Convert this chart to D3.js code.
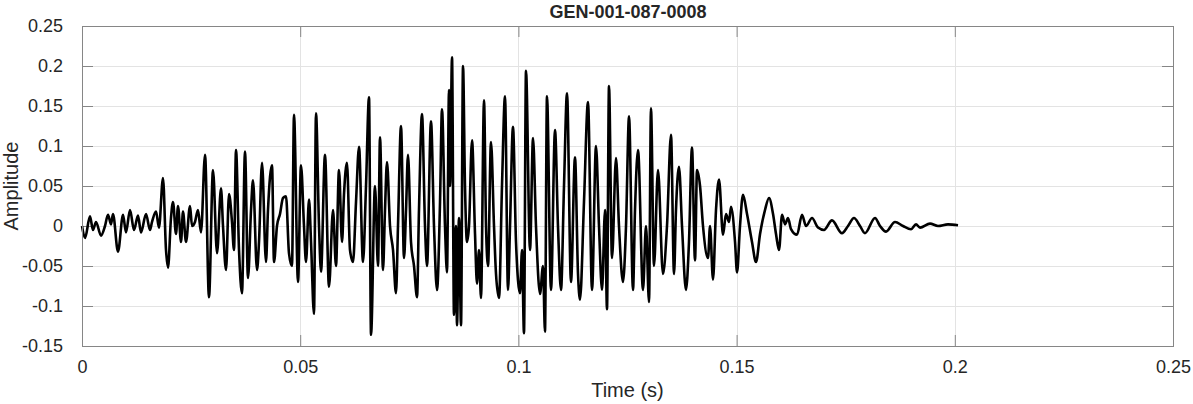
<!DOCTYPE html>
<html>
<head>
<meta charset="utf-8">
<script src="https://cdn.jsdelivr.net/npm/d3@7"></script>
<style>
  html, body { margin: 0; padding: 0; background: #ffffff; }
  svg { display: block; }
  text { font-family: "Liberation Sans", Arial, Helvetica, sans-serif; fill: #262626; }
</style>
</head>
<body>
<svg id="chart" width="1193" height="404"></svg>
<script>
// ---- data ----
const chartTitle = "GEN-001-087-0008";
const xLabel = "Time (s)";
const yLabel = "Amplitude";
const xTicks = [0, 0.05, 0.1, 0.15, 0.2, 0.25];
const xTickLabels = ["0", "0.05", "0.1", "0.15", "0.2", "0.25"];
const yTicks = [-0.15, -0.1, -0.05, 0, 0.05, 0.1, 0.15, 0.2, 0.25];
const yTickLabels = ["-0.15", "-0.1", "-0.05", "0", "0.05", "0.1", "0.15", "0.2", "0.25"];

// time in milliseconds
const timeMs = [
  0.00, 0.69, 1.83, 2.52, 3.21, 4.35, 5.27, 5.96, 6.65, 7.10,
  8.25, 9.40, 10.08, 11.00, 11.92, 12.83, 13.52, 14.67, 15.58, 16.04,
  16.96, 17.64, 18.56, 19.25, 19.71, 20.39, 20.85, 21.54, 22.00, 22.69,
  23.14, 23.83, 24.75, 25.21, 25.89, 26.58, 27.27, 28.19, 29.10, 30.02,
  30.94, 31.85, 32.31, 33.00, 33.69, 34.37, 34.83, 35.29, 35.98, 36.66,
  37.35, 38.04, 38.73, 39.18, 40.10, 40.56, 41.25, 42.16, 42.62, 43.54,
  44.00, 44.68, 45.37, 46.06, 46.75, 47.43, 48.12, 48.58, 49.50, 50.18,
  50.87, 51.33, 52.02, 52.48, 53.16, 53.62, 54.31, 54.77, 55.68, 56.60,
  57.52, 58.20, 58.89, 59.58, 60.04, 60.72, 61.41, 62.10, 62.79, 63.48,
  64.39, 65.08, 65.77, 66.23, 67.14, 67.83, 68.29, 68.97, 69.43, 69.89,
  70.58, 71.27, 71.95, 72.41, 73.10, 73.79, 74.25, 74.70, 75.39, 76.08,
  76.77, 77.22, 77.91, 78.60, 79.06, 79.97, 80.66, 81.35, 82.04, 82.49,
  83.18, 83.64, 84.10, 84.33, 84.79, 85.24, 85.70, 85.93, 86.39, 86.85,
  87.31, 87.76, 88.22, 88.68, 89.37, 90.06, 90.51, 90.97, 91.43, 92.12,
  92.58, 93.04, 93.72, 94.41, 94.87, 95.56, 96.24, 96.93, 97.62, 98.08,
  98.76, 99.45, 100.37, 100.83, 101.28, 101.74, 102.66, 103.35, 104.03, 104.95,
  105.64, 106.09, 106.55, 107.47, 108.39, 109.07, 109.76, 110.45, 111.14, 112.05,
  112.97, 113.66, 114.12, 115.03, 115.95, 116.87, 117.78, 118.47, 119.16, 119.85,
  120.30, 120.76, 121.45, 122.37, 123.05, 123.97, 124.66, 125.35, 126.26, 126.72,
  127.41, 128.55, 129.24, 129.93, 130.38, 131.07, 131.99, 133.13, 134.05, 134.97,
  135.66, 136.11, 136.80, 137.49, 138.40, 139.09, 139.78, 140.47, 140.93, 141.62,
  142.30, 143.45, 143.91, 144.59, 145.28, 145.97, 146.89, 147.57, 148.26, 148.72,
  149.64, 150.10, 150.78, 151.47, 152.39, 153.53, 154.45, 155.37, 156.51, 157.43,
  158.35, 159.03, 159.72, 160.41, 161.10, 161.78, 162.47, 163.84, 164.99, 165.91,
  167.28, 168.65, 170.03, 171.86, 174.15, 175.53, 176.90, 178.28, 179.42, 181.72,
  182.86, 184.24, 186.30, 188.13, 189.97, 191.11, 192.03, 194.32, 196.15, 198.44,
  200.74
];

const amplitude = [
  0.000, -0.015, 0.012, -0.005, 0.005, -0.012, 0.000, 0.014, 0.002, 0.015,
  -0.032, 0.014, -0.008, 0.020, -0.005, 0.013, -0.008, 0.015, -0.005, 0.005,
  0.018, -0.002, 0.060, -0.030, -0.052, 0.010, 0.030, -0.010, 0.025, -0.020,
  0.018, -0.020, 0.025, 0.000, 0.005, 0.020, -0.008, 0.089, -0.089, 0.070,
  -0.034, 0.047, 0.000, -0.055, 0.040, 0.005, -0.030, 0.095, -0.030, -0.084,
  0.093, -0.065, 0.020, 0.057, -0.055, -0.020, 0.079, -0.045, 0.020, 0.076,
  -0.045, 0.000, 0.015, 0.035, 0.037, -0.034, -0.050, 0.139, -0.070, 0.076,
  0.000, -0.045, 0.033, -0.020, -0.110, 0.141, 0.000, -0.057, 0.089, -0.076,
  0.020, -0.050, 0.070, -0.020, 0.040, 0.079, -0.030, -0.045, 0.030, 0.099,
  -0.045, 0.050, 0.161, -0.136, 0.050, -0.050, 0.111, -0.055, 0.020, 0.080,
  0.000, -0.030, -0.084, 0.000, 0.125, -0.040, 0.020, 0.089, -0.020, -0.050,
  -0.089, 0.020, 0.140, 0.000, -0.050, 0.131, 0.000, -0.080, 0.030, 0.146,
  0.000, -0.058, 0.170, 0.050, 0.211, -0.111, 0.000, -0.124, 0.010, -0.124,
  0.200, 0.050, -0.020, 0.000, 0.107, -0.010, -0.072, -0.030, -0.090, 0.157,
  0.000, -0.050, 0.105, 0.000, -0.060, -0.090, 0.050, 0.162, -0.080, 0.000,
  0.124, -0.020, -0.084, -0.030, -0.134, 0.194, -0.030, 0.110, 0.000, -0.085,
  -0.050, -0.132, 0.162, -0.080, 0.120, 0.000, -0.080, 0.050, 0.166, -0.070,
  0.086, -0.060, -0.092, 0.030, 0.155, -0.080, 0.100, 0.000, -0.080, 0.020,
  -0.104, 0.175, -0.040, 0.085, 0.000, -0.070, 0.000, 0.137, -0.080, 0.020,
  0.095, -0.080, 0.000, -0.095, 0.147, -0.050, 0.070, -0.060, 0.000, 0.114,
  -0.060, 0.020, 0.074, 0.000, -0.080, -0.020, 0.098, -0.043, 0.070, 0.050,
  0.000, -0.040, 0.000, -0.067, 0.020, 0.058, -0.011, 0.015, 0.005, 0.024,
  -0.020, -0.058, 0.000, 0.039, 0.015, -0.020, -0.045, -0.010, 0.020, 0.035,
  0.015, -0.010, -0.030, 0.014, 0.002, 0.010, -0.004, -0.011, 0.014, 0.000,
  0.010, -0.002, -0.005, 0.007, -0.009, 0.000, 0.010, 0.000, -0.009, 0.010,
  0.000, -0.007, 0.005, 0.000, -0.004, 0.002, -0.002, 0.003, 0.000, 0.002,
  0.001
];

// ---- layout ----
const svg = d3.select("#chart");
const mLeft = 82, mRight = 1173, mTop = 26, mBottom = 346;

const x = d3.scaleLinear().domain([0, 0.25]).range([mLeft, mRight]);
const y = d3.scaleLinear().domain([-0.15, 0.25]).range([mBottom, mTop]);

const points = timeMs.map((t, i) => ({ t: t / 1000, a: amplitude[i] }));

// grid
const grid = svg.append("g");
grid.selectAll("line.vx").data(xTicks).enter().append("line")
  .attr("x1", d => Math.round(x(d)) + 0.5).attr("x2", d => Math.round(x(d)) + 0.5)
  .attr("y1", mTop).attr("y2", mBottom)
  .attr("stroke", "#e3e3e3").attr("stroke-width", 1);
grid.selectAll("line.hy").data(yTicks).enter().append("line")
  .attr("y1", d => Math.round(y(d)) + 0.5).attr("y2", d => Math.round(y(d)) + 0.5)
  .attr("x1", mLeft).attr("x2", mRight)
  .attr("stroke", "#e3e3e3").attr("stroke-width", 1);

// axes (MATLAB-like: ticks inward on all four sides)
const tickLen = 11;
const axisColor = "#868686";
function styleAxis(g) {
  g.select(".domain").remove();
  g.selectAll(".tick line").attr("stroke", axisColor);
  g.selectAll(".tick text").style("font-size", "18px").attr("fill", "#262626");
}
svg.append("g").attr("transform", `translate(0,${mBottom})`)
  .call(d3.axisBottom(x).tickValues(xTicks).tickSizeInner(-tickLen).tickSizeOuter(0)
        .tickPadding(14).tickFormat((d, i) => xTickLabels[i]))
  .call(styleAxis);
svg.append("g").attr("transform", `translate(0,${mTop})`)
  .call(d3.axisTop(x).tickValues(xTicks).tickSizeInner(-tickLen).tickSizeOuter(0).tickFormat(""))
  .call(styleAxis);
svg.append("g").attr("transform", `translate(${mLeft},0)`)
  .call(d3.axisLeft(y).tickValues(yTicks).tickSizeInner(-tickLen).tickSizeOuter(0)
        .tickPadding(19).tickFormat((d, i) => yTickLabels[i]))
  .call(styleAxis);
svg.append("g").attr("transform", `translate(${mRight},0)`)
  .call(d3.axisRight(y).tickValues(yTicks).tickSizeInner(-tickLen).tickSizeOuter(0).tickFormat(""))
  .call(styleAxis);

// the waveform
const line = d3.line().x(d => x(d.t)).y(d => y(d.a)).curve(d3.curveMonotoneX);
svg.append("path").datum(points)
  .attr("d", line)
  .attr("fill", "none").attr("stroke", "#000000")
  .attr("stroke-width", 2.6).attr("stroke-linejoin", "round");

// box
svg.append("rect")
  .attr("x", mLeft + 0.5).attr("y", mTop + 0.5)
  .attr("width", mRight - mLeft).attr("height", mBottom - mTop)
  .attr("fill", "none").attr("stroke", axisColor).attr("stroke-width", 1);

// labels
svg.append("text").attr("x", 628).attr("y", 18)
  .attr("text-anchor", "middle").style("font-size", "18px").style("font-weight", "bold")
  .attr("fill", "#000").text(chartTitle);
svg.append("text").attr("x", (mLeft + mRight) / 2).attr("y", 397)
  .attr("text-anchor", "middle").style("font-size", "20px").text(xLabel);
svg.append("text").attr("transform", `translate(18,${(mTop + mBottom) / 2}) rotate(-90)`)
  .attr("text-anchor", "middle").style("font-size", "20px").text(yLabel);
</script>
</body>
</html>
